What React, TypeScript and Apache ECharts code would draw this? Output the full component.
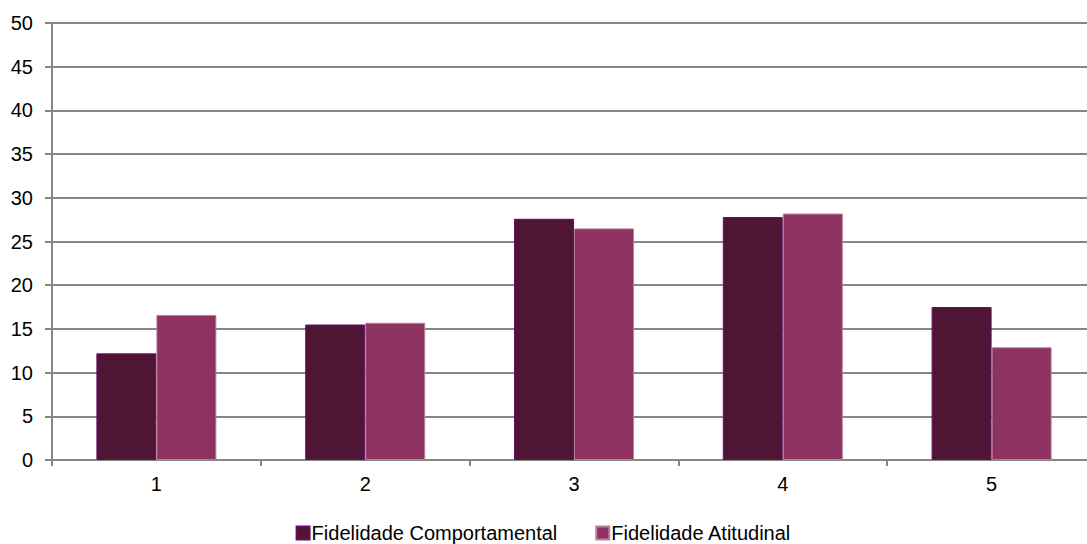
import React, { useEffect, useRef } from "react";
import * as echarts from "echarts";

const categories = ["1", "2", "3", "4", "5"];
const comportamental = [12.2, 15.5, 27.6, 27.8, 17.5];
const atitudinal = [16.6, 15.7, 26.5, 28.2, 12.9];
const seriesNames = ["Fidelidade Comportamental", "Fidelidade Atitudinal"];

const FONT = "Arial, 'Liberation Sans', sans-serif";

export default function App() {
  const ref = useRef<HTMLDivElement>(null);
  useEffect(() => {
    if (!ref.current) return;
    const chart = echarts.init(ref.current, null, { renderer: "svg" });
    chart.setOption({
      animation: false,
      textStyle: { fontFamily: FONT },
      grid: { left: 52, width: 1044, top: 23, height: 437, outerBoundsMode: "none" },
      legend: {
        top: 523,
        left: "center",
        padding: 0,
        itemWidth: 13,
        itemHeight: 13,
        itemGap: 38,
        icon: "rect",
        textStyle: { fontFamily: FONT, fontSize: 20, color: "#000", padding: [0, 0, 0, -3] },
        data: seriesNames,
      },
      xAxis: {
        type: "category",
        data: categories,
        boundaryGap: true,
        axisLine: { lineStyle: { color: "#868686", width: 2 } },
        axisTick: { show: true, length: 6, lineStyle: { color: "#868686", width: 2 } },
        axisLabel: { color: "#000", fontSize: 20, fontFamily: FONT, margin: 14 },
      },
      yAxis: {
        type: "value",
        min: 0,
        max: 50,
        interval: 5,
        axisLine: { show: true, lineStyle: { color: "#868686", width: 2 } },
        axisTick: { show: true, length: 7, lineStyle: { color: "#868686", width: 2 } },
        splitLine: { lineStyle: { color: "#868686", width: 2 } },
        axisLabel: { color: "#000", fontSize: 20, fontFamily: FONT, margin: 19 },
      },
      series: [
        {
          name: seriesNames[0],
          type: "bar",
          data: comportamental,
          barWidth: 60,
          barGap: "0%",
          itemStyle: { color: "#4E1634", borderColor: "#6A0A6A", borderWidth: 1 },
        },
        {
          name: seriesNames[1],
          type: "bar",
          data: atitudinal,
          barWidth: 60,
          itemStyle: { color: "#8E3262", borderColor: "#B8809E", borderWidth: 1 },
        },
      ],
    });
    return () => chart.dispose();
  }, []);
  return (
    <div
      ref={ref}
      style={{ position: "fixed", left: 0, top: 0, width: 1087, height: 544, background: "#fff", overflow: "hidden" }}
    />
  );
}
